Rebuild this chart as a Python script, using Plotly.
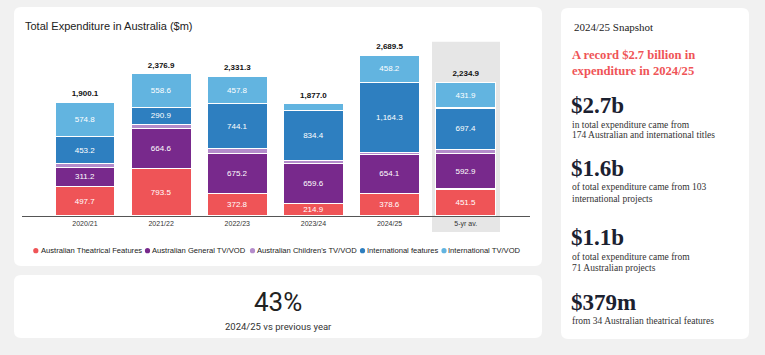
import plotly.graph_objects as go

# ---------------- data ----------------
categories = ["2020/21", "2021/22", "2022/23", "2023/24", "2024/25", "5-yr av."]
aus_theatrical = [497.7, 793.5, 372.8, 214.9, 378.6, 451.5]
aus_general_tv = [311.2, 664.6, 675.2, 659.6, 654.1, 592.9]
aus_children_tv = [63.2, 69.3, 81.4, 58.0, 34.3, 61.2]
intl_features = [453.2, 290.9, 744.1, 834.4, 1164.3, 697.4]
intl_tv = [574.8, 558.6, 457.8, 110.1, 458.2, 431.9]
totals = [1900.1, 2376.9, 2331.3, 1877.0, 2689.5, 2234.9]

series_names = ["Australian Theatrical Features", "Australian General TV/VOD",
                "Australian Children's TV/VOD", "International features",
                "International TV/VOD"]
series_values = [aus_theatrical, aus_general_tv, aus_children_tv, intl_features, intl_tv]
series_colors = ["#EF5457", "#78298C", "#B48CCB", "#2E7FC0", "#62B4E0"]

# ---------------- geometry helpers ----------------
FW, FH = 765, 355
L, R, T, B = 22, 530, 36, 216
W, H = R - L, B - T
PADX = 2.5  # annotation inner padding compensation for left-anchored text


def px(x):
    return (x - L) / W


def py(y):
    return (B - y) / H


def rrect(x0, y0, x1, y1, r):
    pts = [
        ("M", [(x0 + r, y0)]), ("L", [(x1 - r, y0)]), ("Q", [(x1, y0), (x1, y0 + r)]),
        ("L", [(x1, y1 - r)]), ("Q", [(x1, y1), (x1 - r, y1)]), ("L", [(x0 + r, y1)]),
        ("Q", [(x0, y1), (x0, y1 - r)]), ("L", [(x0, y0 + r)]), ("Q", [(x0, y0), (x0 + r, y0)]),
    ]
    s = ""
    for cmd, coords in pts:
        s += cmd + " ".join(f"{px(a):.5f},{py(b):.5f}" for a, b in coords) + " "
    return s + "Z"


SANS = "Liberation Sans, Arial, sans-serif"
SERIF = "Liberation Serif, Times New Roman, serif"

fig = go.Figure()

for name, vals, col in zip(series_names, series_values, series_colors):
    labels = [f"{v:,.1f}" if v >= 150 else "" for v in vals]
    fig.add_trace(go.Bar(
        x=categories, y=vals, name=name, marker=dict(color=col, line=dict(color="white", width=1.2)),
        text=labels, textposition="inside", insidetextanchor="middle", textangle=0,
        textfont=dict(color="white", size=8, family=SANS), constraintext="none",
        showlegend=False, hoverinfo="x+y+name",
    ))

fig.add_trace(go.Scatter(
    x=categories, y=totals, mode="markers+text", text=[f"{t:,.1f}" for t in totals],
    marker=dict(size=5, opacity=0),
    textposition="top center", textfont=dict(size=8, color="#111", family=SANS, weight="bold"),
    showlegend=False, cliponaxis=False, hoverinfo="skip",
))

shapes = []
# panels
shapes.append(dict(type="path", xref="paper", yref="paper", path=rrect(14, 7, 542, 266, 7),
                   fillcolor="white", line=dict(width=0), layer="below"))
shapes.append(dict(type="path", xref="paper", yref="paper", path=rrect(14, 275, 542, 338, 7),
                   fillcolor="white", line=dict(width=0), layer="below"))
shapes.append(dict(type="path", xref="paper", yref="paper", path=rrect(561, 8, 749, 339, 7),
                   fillcolor="white", line=dict(width=0), layer="below"))
# highlight of the 5-yr average column
shapes.append(dict(type="rect", xref="x", yref="paper", x0=4.557, x1=5.45, y0=py(232), y1=py(41.7),
                   fillcolor="#E6E6E6", line=dict(width=0), layer="below"))

annotations = []
annotations.append(dict(text="Total Expenditure in Australia ($m)", x=px(25.5 - PADX), y=py(26.5), xref="paper", yref="paper",
                        xanchor="left", yanchor="middle", showarrow=False,
                        font=dict(family=SANS, size=11, color="#222")))

# legend (circles + labels)
legend_circle_x = [35.8, 147.5, 252.5, 362.5, 444.0]
legend_text_x = [40.7, 152.3, 256.7, 366.7, 448.3]
ly = 250.7
for name, col, cx, tx in zip(series_names, series_colors, legend_circle_x, legend_text_x):
    shapes.append(dict(type="circle", xref="paper", yref="paper", x0=px(cx - 2.6), x1=px(cx + 2.6),
                       y0=py(ly + 2.6), y1=py(ly - 2.6), fillcolor=col, line=dict(width=0)))
    annotations.append(dict(text=name, x=px(tx - PADX + 0.5), y=py(ly), xref="paper", yref="paper", xanchor="left",
                            yanchor="middle", showarrow=False, font=dict(family=SANS, size=7.6, color="#222")))

# KPI panel
annotations.append(dict(text="43%", x=px(278), y=py(302), xref="paper", yref="paper", xanchor="center",
                        yanchor="middle", showarrow=False, font=dict(family="Roboto, Arial", size=26, color="#222")))
annotations.append(dict(text="2024/25 vs previous year", x=px(278), y=py(326.5), xref="paper", yref="paper",
                        xanchor="center", yanchor="middle", showarrow=False,
                        font=dict(family="Roboto, Arial", size=9.5, color="#333")))

# snapshot panel
snap = [
    ("2024/25 Snapshot", 574, 27.5, 11, "#222", False),
    ("A record $2.7 billion in", 572, 55.5, 12.6, "#EF5457", True),
    ("expenditure in 2024/25", 572, 70.5, 12.6, "#EF5457", True),
    ("$2.7b", 571.5, 106, 23, "#1B2130", True),
    ("in total expenditure came from", 572.5, 125, 9.5, "#333", False),
    ("174 Australian and international titles", 572.5, 135, 9.5, "#333", False),
    ("$1.6b", 571.5, 168.5, 23, "#1B2130", True),
    ("of total expenditure came from 103", 572.5, 186.5, 9.5, "#333", False),
    ("international projects", 572.5, 198.5, 9.5, "#333", False),
    ("$1.1b", 571.5, 237.5, 23, "#1B2130", True),
    ("of total expenditure came from", 572.5, 256.5, 9.5, "#333", False),
    ("71 Australian projects", 572.5, 267.5, 9.5, "#333", False),
    ("$379m", 571.5, 302.5, 23, "#1B2130", True),
    ("from 34 Australian theatrical features", 572.5, 320.5, 9.5, "#333", False),
]
for txt, x, y, size, col, bold in snap:
    annotations.append(dict(text=f"<b>{txt}</b>" if bold else txt, x=px(x - PADX), y=py(y), xref="paper", yref="paper",
                            xanchor="left", yanchor="middle", showarrow=False,
                            font=dict(family=SERIF, size=size, color=col)))

fig.update_layout(
    width=FW, height=FH, margin=dict(l=L, r=FW - R, t=T, b=FH - B, pad=0),
    paper_bgcolor="#F1F1F1", plot_bgcolor="rgba(0,0,0,0)",
    barmode="stack", bargap=0.21, showlegend=False,
    shapes=shapes, annotations=annotations,
    xaxis=dict(type="category", range=[-0.827, 5.844], showline=True, linecolor="#555", linewidth=1.2,
               ticks="", showgrid=False, zeroline=False,
               tickfont=dict(family=SANS, size=7, color="#333")),
    yaxis=dict(range=[0, 3007], visible=False, showgrid=False, zeroline=False),
)

fig.write_html("out.html", config={"displayModeBar": False},
               post_script="document.body.style.margin='0';document.body.style.padding='0';"
                           "document.body.style.overflow='hidden';document.body.style.background='#F1F1F1';")
